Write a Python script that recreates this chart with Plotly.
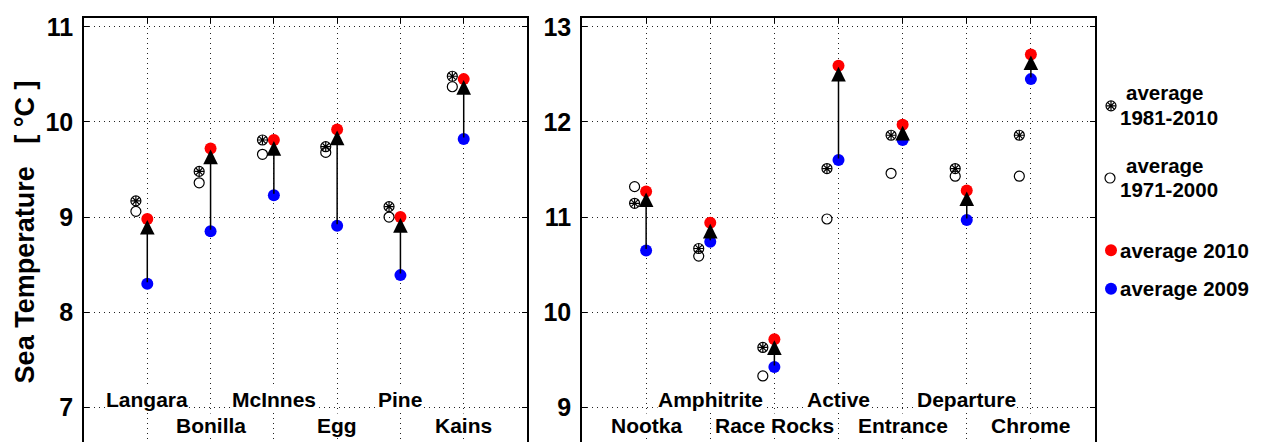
import plotly.graph_objects as go

# ---------------- data ----------------
left_sites = ["Langara", "Bonilla", "McInnes", "Egg", "Pine", "Kains"]
left_2010 = [8.98, 9.72, 9.81, 9.92, 9.00, 10.45]
left_2009 = [8.30, 8.85, 9.23, 8.91, 8.39, 9.82]
left_8110 = [9.17, 9.48, 9.81, 9.74, 9.11, 10.48]
left_7100 = [9.06, 9.36, 9.66, 9.68, 9.00, 10.37]

right_sites = ["Nootka", "Amphitrite", "Race Rocks", "Active", "Entrance", "Departure", "Chrome"]
right_2010 = [11.27, 10.94, 9.715, 12.59, 11.97, 11.28, 12.71]
right_2009 = [10.65, 10.74, 9.425, 11.60, 11.81, 10.97, 12.45]
right_8110 = [11.145, 10.67, 9.63, 11.51, 11.86, 11.51, 11.86]
right_7100 = [11.32, 10.59, 9.33, 10.98, 11.46, 11.43, 11.43]

left_yticks = [7, 8, 9, 10, 11]
right_yticks = [9, 10, 11, 12, 13]

legend_labels = [("average", "1981-2010"), ("average", "1971-2000"), "average 2010", "average 2009"]

# ---------------- style ----------------
W, H = 1262, 442
FONT = "Liberation Sans, Arial, Helvetica, sans-serif"
RED, BLUE = "#ff0000", "#0000ff"
OFF = 0.18  # horizontal offset of climatology symbols
GRID = dict(showgrid=True, gridcolor="#222", gridwidth=1, griddash="1px,4px", zeroline=False)

fig = go.Figure()


def panel(sites, v10, v09, v81, v71, xa, ya):
    pos = list(range(1, len(sites) + 1))
    pos_off = [p - OFF for p in pos]
    fig.add_trace(go.Scatter(x=pos_off, y=v71, mode="markers", xaxis=xa, yaxis=ya,
                             marker=dict(symbol="circle-open", size=10, color="black", line=dict(width=1.2))))
    fig.add_trace(go.Scatter(x=pos_off, y=v81, mode="markers", xaxis=xa, yaxis=ya,
                             marker=dict(symbol="circle-open", size=10, color="black", line=dict(width=1.2))))
    fig.add_trace(go.Scatter(x=pos_off, y=v81, mode="markers", xaxis=xa, yaxis=ya,
                             marker=dict(symbol="asterisk-open", size=8, color="black", line=dict(width=1.2))))
    fig.add_trace(go.Scatter(x=pos, y=v09, mode="markers", xaxis=xa, yaxis=ya,
                             marker=dict(symbol="circle", size=12, color=BLUE)))
    fig.add_trace(go.Scatter(x=pos, y=v10, mode="markers", xaxis=xa, yaxis=ya,
                             marker=dict(symbol="circle", size=12, color=RED)))
    for p, a, b in zip(pos, v09, v10):
        fig.add_annotation(x=p, y=b, ax=p, ay=a, xref=xa, yref=ya, axref=xa, ayref=ya,
                           text="", showarrow=True, arrowhead=2, arrowsize=1.95, arrowwidth=1.5,
                           arrowcolor="black", standoff=1)


panel(left_sites, left_2010, left_2009, left_8110, left_7100, "x", "y")
panel(right_sites, right_2010, right_2009, right_8110, right_7100, "x2", "y2")

# category labels (staggered rows, white background hides grid)
UP, LOW = 1 - 399 / H, 1 - 425 / H
LABF = dict(family=FONT, size=21, color="black", weight="bold")
for i, s in enumerate(left_sites):
    fig.add_annotation(x=i + 1, y=UP if i % 2 == 0 else LOW, xref="x", yref="paper", text=s,
                       yanchor="middle", showarrow=False, bgcolor="white", borderpad=0, font=LABF)
for i, s in enumerate(right_sites):
    fig.add_annotation(x=i + 1, y=LOW if i % 2 == 0 else UP, xref="x2", yref="paper", text=s,
                       yanchor="middle", showarrow=False, bgcolor="white", borderpad=0, font=LABF)

# y-axis title
fig.add_annotation(x=25 / W, y=1 - 230 / H, xref="paper", yref="paper", xanchor="center", yanchor="middle",
                   text="Sea Temperature\u00a0\u00a0\u00a0[\u00a0°C\u00a0]", textangle=-90, showarrow=False,
                   font=dict(family=FONT, size=27, color="black", weight="bold"))

# custom legend on a hidden pixel-like axis
leg_y = [102, 175, 248, 287]
fig.add_trace(go.Scatter(x=[1111], y=[leg_y[0]], mode="markers", xaxis="x3", yaxis="y3",
                         marker=dict(symbol="circle-open", size=10, color="black", line=dict(width=1.2))))
fig.add_trace(go.Scatter(x=[1111], y=[leg_y[0]], mode="markers", xaxis="x3", yaxis="y3",
                         marker=dict(symbol="asterisk-open", size=8, color="black", line=dict(width=1.2))))
fig.add_trace(go.Scatter(x=[1110], y=[leg_y[1]], mode="markers", xaxis="x3", yaxis="y3",
                         marker=dict(symbol="circle-open", size=10, color="black", line=dict(width=1.2))))
fig.add_trace(go.Scatter(x=[1111, 1111], y=[leg_y[2], leg_y[3]], mode="markers", xaxis="x3", yaxis="y3",
                         marker=dict(symbol="circle", size=12, color=[RED, BLUE])))
LF = dict(family=FONT, size=20.5, color="black", weight="bold")
for k, (a, b) in enumerate(legend_labels[:2]):
    yc = leg_y[k]
    fig.add_annotation(x=1124, y=yc - 13, xref="x3", yref="y3", text=a, showarrow=False,
                       xanchor="left", yanchor="middle", font=LF)
    fig.add_annotation(x=1118, y=yc + 12, xref="x3", yref="y3", text=b, showarrow=False,
                       xanchor="left", yanchor="middle", font=LF)
for k, t in enumerate(legend_labels[2:]):
    fig.add_annotation(x=1118, y=leg_y[k + 2], xref="x3", yref="y3", text=t, showarrow=False,
                       xanchor="left", yanchor="middle", font=LF)

TOP = 1 - 13 / H
TICKF = dict(family=FONT, size=25, color="black", weight="bold")
xcommon = dict(side="top", showline=True, linecolor="black", linewidth=1.5, ticks="inside", ticklen=5,
               tickcolor="black", showticklabels=False, **GRID)
ycommon = dict(showline=True, linecolor="black", linewidth=1.5, mirror="ticks", ticks="inside", ticklen=5,
               tickcolor="black", tickfont=TICKF, ticklabelstandoff=4, **GRID)

fig.update_layout(
    width=W, height=H, margin=dict(l=0, r=0, t=0, b=0),
    paper_bgcolor="white", plot_bgcolor="white", showlegend=False,
    xaxis=dict(domain=[84 / W, 527 / W], range=[0, 7], tickvals=list(range(1, 7)), anchor="y", **xcommon),
    yaxis=dict(domain=[0, TOP], range=[6.636, 11.094], tickvals=left_yticks, anchor="x", **ycommon),
    xaxis2=dict(domain=[582 / W, 1095 / W], range=[0, 8], tickvals=list(range(1, 8)), anchor="y2", **xcommon),
    yaxis2=dict(domain=[0, TOP], range=[8.636, 13.094], tickvals=right_yticks, anchor="x2", **ycommon),
    xaxis3=dict(domain=[1096 / W, 1], range=[1096, 1262], visible=False, fixedrange=True),
    yaxis3=dict(domain=[0, 1], range=[442, 0], visible=False, fixedrange=True, anchor="x3"),
)

fig.write_html("out.html")
